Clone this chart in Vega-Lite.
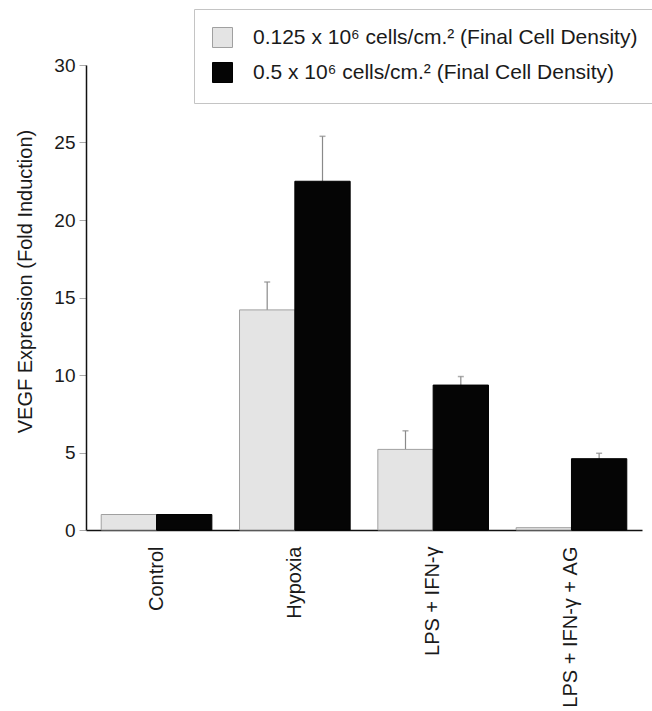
{
  "$schema": "https://vega.github.io/schema/vega-lite/v6.json",
  "autosize": {"type": "none"},
  "padding": {"left": 86, "top": 65, "right": 10, "bottom": 181},
  "width": 556,
  "height": 465,
  "background": "white",
  "config": {
    "font": "Liberation Sans",
    "view": {"stroke": null},
    "axis": {"labelFont": "Liberation Sans", "titleFont": "Liberation Sans", "labelColor": "#1a1a1a", "titleColor": "#1a1a1a"}
  },
  "data": {
    "values": [
      {"group": "Control", "series": "0.125 x 10⁶ cells/cm.² (Final Cell Density)", "value": 1.0, "err": null},
      {"group": "Control", "series": "0.5 x 10⁶ cells/cm.² (Final Cell Density)", "value": 1.0, "err": null},
      {"group": "Hypoxia", "series": "0.125 x 10⁶ cells/cm.² (Final Cell Density)", "value": 14.2, "err": 16.0},
      {"group": "Hypoxia", "series": "0.5 x 10⁶ cells/cm.² (Final Cell Density)", "value": 22.5, "err": 25.4},
      {"group": "LPS + IFN-γ", "series": "0.125 x 10⁶ cells/cm.² (Final Cell Density)", "value": 5.2, "err": 6.4},
      {"group": "LPS + IFN-γ", "series": "0.5 x 10⁶ cells/cm.² (Final Cell Density)", "value": 9.35, "err": 9.9},
      {"group": "LPS + IFN-γ + AG", "series": "0.125 x 10⁶ cells/cm.² (Final Cell Density)", "value": 0.15, "err": null},
      {"group": "LPS + IFN-γ + AG", "series": "0.5 x 10⁶ cells/cm.² (Final Cell Density)", "value": 4.6, "err": 4.95}
    ]
  },
  "encoding": {
    "x": {
      "field": "group", "type": "nominal", "sort": null,
      "scale": {"paddingInner": 0.2, "paddingOuter": 0.11},
      "axis": {
        "title": null, "labelAngle": -90, "labelFontSize": 20, "labelPadding": 16,
        "ticks": false, "domainColor": "#111", "domainWidth": 1.5, "labelLimit": 300
      }
    },
    "xOffset": {"field": "series", "type": "nominal", "sort": null, "scale": {"paddingInner": 0, "paddingOuter": 0}}
  },
  "layer": [
    {
      "mark": {"type": "rule", "strokeWidth": 1.2, "color": "#8a8a8a"},
      "encoding": {
        "y": {"field": "value", "type": "quantitative"},
        "y2": {"field": "err"}
      }
    },
    {
      "mark": {"type": "tick", "thickness": 1.5, "size": 6, "color": "#8a8a8a", "orient": "horizontal"},
      "encoding": {
        "y": {"field": "err", "type": "quantitative"}
      }
    },
    {
      "mark": {"type": "bar", "strokeWidth": 1},
      "encoding": {
        "y": {
          "field": "value", "type": "quantitative",
          "scale": {"domain": [0, 30]},
          "axis": {
            "title": "VEGF Expression (Fold Induction)", "titleFontSize": 20, "titleFontWeight": "normal",
            "titleX": -51, "titleY": 216,
            "values": [0, 5, 10, 15, 20, 25, 30], "labelFontSize": 19, "labelPadding": 4,
            "tickColor": "#aaa", "tickSize": 7, "grid": false,
            "domainColor": "#111", "domainWidth": 1.5
          }
        },
        "fill": {
          "field": "series", "type": "nominal", "sort": null,
          "scale": {"range": ["#e4e4e4", "#050505"]},
          "legend": {
            "title": null, "orient": "none", "legendX": 108, "legendY": -56,
            "symbolType": "square", "symbolSize": 400, "symbolStrokeWidth": 1,
            "labelFontSize": 21, "labelOffset": 20, "labelLimit": 600, "labelColor": "#1a1a1a",
            "rowPadding": 10, "padding": 18, "strokeColor": "#c4c4c4", "fillColor": "white"
          }
        },
        "stroke": {
          "field": "series", "type": "nominal", "sort": null,
          "scale": {"range": ["#a0a0a0", "#000000"]}
        }
      }
    }
  ]
}
